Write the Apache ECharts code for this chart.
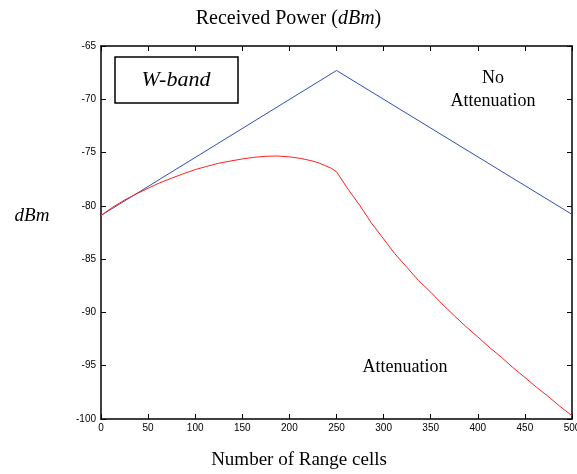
<!DOCTYPE html>
<html><head><meta charset="utf-8">
<script src="https://cdn.jsdelivr.net/npm/echarts@6/dist/echarts.min.js"></script>
<style>html,body{margin:0;padding:0;background:#fff}#c{width:577px;height:474px}</style>
</head><body><div id="c"></div>
<script>
const xTicks = [0,50,100,150,200,250,300,350,400,450,500];
const yTicks = [-100,-95,-90,-85,-80,-75,-70,-65];
const noAttenX = [0, 250, 500];
const noAttenY = [-80.9, -67.3, -80.8];
const attenX = [0,12,25,37,50,62,75,87,100,112,125,137,150,162,175,187,200,212,225,232,240,245,250,262,275,287,300,312,325,337,350,362,375,387,400,412,425,437,450,462,475,487,500];
const attenY = [-80.9,-80.15,-79.45,-78.9,-78.35,-77.85,-77.4,-77.0,-76.6,-76.3,-76.0,-75.8,-75.6,-75.45,-75.35,-75.32,-75.4,-75.55,-75.8,-76.0,-76.3,-76.5,-76.8,-78.4,-80.0,-81.6,-83.1,-84.5,-85.8,-87.0,-88.1,-89.2,-90.3,-91.3,-92.3,-93.25,-94.2,-95.15,-96.1,-97.0,-97.9,-98.8,-99.7];

const chart = echarts.init(document.getElementById('c'), null, {renderer:'canvas'});
const serif = '"Liberation Serif", "DejaVu Serif", serif';
const sans = '"Liberation Sans", Arial, sans-serif';
const axisCommon = {
  type:'value',
  axisLine:{show:true,onZero:false,lineStyle:{color:'#000',width:1.5}},
  axisTick:{show:true,inside:true,length:5,lineStyle:{color:'#000',width:1}},
  splitLine:{show:false}
};
chart.setOption({
  animation:false,
  backgroundColor:'#fff',
  title:{
    text:'{a|Received Power (}{b|dBm}{a|)}',
    left:'center', top:4,
    textStyle:{fontWeight:'normal',rich:{
      a:{fontFamily:serif,fontSize:20,fontWeight:'normal',color:'#000'},
      b:{fontFamily:serif,fontSize:20,fontWeight:'normal',fontStyle:'italic',color:'#000'}
    }}
  },
  grid:{left:101,right:5,top:46,bottom:55,containLabel:false,outerBoundsMode:'none'},
  xAxis:[
    Object.assign({}, axisCommon, {min:0,max:500,interval:50,position:'bottom',
      axisLabel:{show:true,fontFamily:sans,fontSize:10,color:'#000',margin:4,
        formatter:v=>xTicks.includes(v)?String(v):''}}),
    Object.assign({}, axisCommon, {min:0,max:500,interval:50,position:'top',axisLabel:{show:false}})
  ],
  yAxis:[
    Object.assign({}, axisCommon, {min:-100,max:-65,interval:5,position:'left',
      axisLabel:{show:true,fontFamily:sans,fontSize:10,color:'#000',margin:5,
        formatter:v=>yTicks.includes(v)?String(v):''}}),
    Object.assign({}, axisCommon, {min:-100,max:-65,interval:5,position:'right',axisLabel:{show:false}})
  ],
  series:[
    {name:'No Attenuation',type:'line',showSymbol:false,
     data:noAttenX.map((x,i)=>[x,noAttenY[i]]),
     lineStyle:{color:'#3050b8',width:1},itemStyle:{color:'#3050b8'}},
    {name:'Attenuation',type:'line',showSymbol:false,
     data:attenX.map((x,i)=>[x,attenY[i]]),
     lineStyle:{color:'#ff2020',width:1},itemStyle:{color:'#ff2020'}}
  ],
  graphic:[
    {type:'rect',shape:{x:115,y:57,width:123,height:46},
     style:{fill:'#fff',stroke:'#000',lineWidth:1.5},z:10},
    {type:'text',x:176,y:80,z:11,style:{text:'W-band',font:'italic 22px '+serif,fill:'#000',align:'center',verticalAlign:'middle'}},
    {type:'text',x:493,y:90,z:11,style:{text:'No\nAttenuation',font:'18px '+serif,lineHeight:23,fill:'#000',align:'center',verticalAlign:'middle'}},
    {type:'text',x:405,y:367,z:11,style:{text:'Attenuation',font:'18px '+serif,fill:'#000',align:'center',verticalAlign:'middle'}},
    {type:'text',x:32,y:216,z:11,style:{text:'dBm',font:'italic 19px '+serif,fill:'#000',align:'center',verticalAlign:'middle'}},
    {type:'text',x:299,y:460,z:11,style:{text:'Number of Range cells',font:'19px '+serif,fill:'#000',align:'center',verticalAlign:'middle'}}
  ]
});
</script></body></html>
